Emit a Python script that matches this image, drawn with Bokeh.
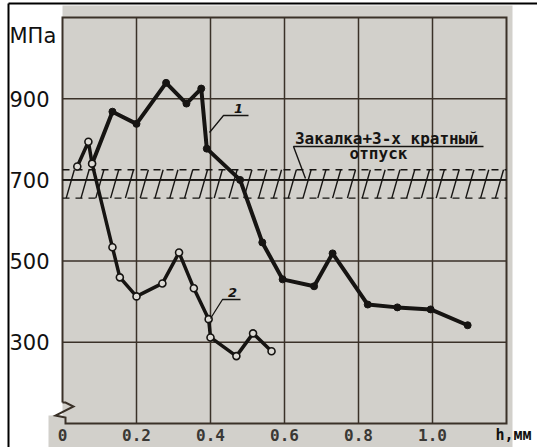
import numpy as np
from bokeh.plotting import figure
from bokeh.models import Range1d, Label
from bokeh.core.properties import value
from bokeh.embed import file_html
from bokeh.resources import INLINE

# Residual stress (MPa) against depth h (mm)
# curve 1
h1 = [0.08, 0.135, 0.20, 0.28, 0.335, 0.375, 0.39, 0.48, 0.54, 0.595, 0.68, 0.73, 0.825, 0.905, 0.995, 1.095]
s1 = [740, 868, 838, 939, 888, 925, 777, 700, 546, 455, 438, 519, 393, 386, 381, 342]
# curve 2
h2 = [0.04, 0.07, 0.08, 0.135, 0.155, 0.20, 0.27, 0.315, 0.355, 0.395, 0.40, 0.47, 0.515, 0.565]
s2 = [733, 794, 740, 534, 460, 413, 445, 521, 433, 357, 312, 266, 322, 278]

x_ticks = [0, 0.2, 0.4, 0.6, 0.8, 1.0]
x_tick_labels = ["0", "0.2", "0.4", "0.6", "0.8", "1.0"]
y_ticks = [300, 500, 700, 900]
y_tick_labels = ["300", "500", "700", "900"]
x_grid = [0.2, 0.4, 0.6, 0.8, 1.0]
y_grid = [300, 500, 700, 900]
band_low, band_high = 655, 725      # quench + triple temper level
band_mid = 700

H_MIN, H_MAX = 0.0, 1.2
S_MIN, S_MAX = 100, 1100

W, H = 537, 447
# frame of the graph in pixels
FX0, FX1 = 62, 506
FY0, FY1 = 17, 423          # top, bottom
kx = (FX1 - FX0) / (H_MAX - H_MIN)
ky = (FY1 - FY0) / (S_MAX - S_MIN)


def hx(px):
    return H_MIN + (px - FX0) / kx


def vy(py):
    return S_MAX - (py - FY0) / ky


p = figure(width=W, height=H, output_backend="svg", toolbar_location=None,
           x_range=Range1d(hx(0), hx(W)), y_range=Range1d(vy(H), vy(0)),
           x_axis_location=None, y_axis_location=None, min_border=0,
           background_fill_color="white", border_fill_color="white",
           outline_line_color=None)
p.grid.visible = False

INK = "#161412"
GRID = "#3a3128"
PAPER = "#d2d0cb"

# paper sheet
p.quad(left=[hx(62)], right=[hx(512)], bottom=[vy(H)], top=[vy(5)],
       fill_color=PAPER, line_color=None)
p.quad(left=[hx(48)], right=[hx(63)], bottom=[vy(H)], top=[vy(415)],
       fill_color=PAPER, line_color=None)

# page border lines
p.segment(x0=[hx(8), hx(8)], y0=[vy(3), vy(3)], x1=[hx(W), hx(8)], y1=[vy(3), vy(H)],
          line_color="black", line_width=2)

# grid
p.segment(x0=x_grid, y0=[S_MIN] * len(x_grid), x1=x_grid, y1=[S_MAX] * len(x_grid),
          line_color=GRID, line_width=1.5)
p.segment(x0=[H_MIN] * len(y_grid), y0=y_grid, x1=[H_MAX] * len(y_grid), y1=y_grid,
          line_color=GRID, line_width=1.5)
# frame with the axis break on the left
p.line(x=[H_MIN, H_MIN, H_MAX, H_MAX, hx(65), hx(65), hx(55), hx(73), hx(65), H_MIN],
       y=[vy(402), S_MAX, S_MAX, S_MIN, S_MIN, vy(417), vy(415), vy(406), vy(402), vy(402)],
       line_color=GRID, line_width=2, line_join="miter")

# hatched band
p.segment(x0=[H_MIN, H_MIN], y0=[band_low, band_high], x1=[H_MAX, H_MAX], y1=[band_low, band_high],
          line_color=INK, line_width=1.3, line_dash="7 6")
p.segment(x0=[H_MIN], y0=[band_mid], x1=[H_MAX], y1=[band_mid], line_color=INK, line_width=1.6)
hatch_x = np.arange(0.01, H_MAX - 0.02, 0.04)
p.segment(x0=hatch_x, y0=[band_low] * len(hatch_x), x1=hatch_x + 0.022, y1=[band_high] * len(hatch_x),
          line_color=INK, line_width=1.4)

# curves
p.line(h1, s1, line_color=INK, line_width=4, line_join="round")
p.scatter(h1, s1, size=7, fill_color=INK, line_color=INK)
p.line(h2, s2, line_color=INK, line_width=3.5, line_join="round")
p.scatter(h2, s2, size=7, fill_color="#dddbd6", line_color=INK, line_width=1.6)

# curve labels with leaders
p.line(x=[hx(209), hx(223), hx(248)], y=[vy(132), vy(115), vy(115)], line_color=INK, line_width=1.3)
p.line(x=[hx(210), hx(222), hx(240)], y=[vy(318), vy(299), vy(299)], line_color=INK, line_width=1.3)
p.text(x=[hx(238), hx(232)], y=[vy(108), vy(292)], text=["1", "2"],
       text_font=value("DejaVu Sans"), text_font_style="bold italic", text_font_size="13px",
       text_color=INK, text_align="center", text_baseline="middle")

# band note
p.line(x=[hx(305), hx(293), hx(483)], y=[vy(178), vy(146), vy(146)], line_color=INK, line_width=1.4)
p.text(x=[hx(386), hx(378)], y=[vy(138), vy(153)], text=["Закалка+3-х кратный", "отпуск"],
       text_font=value("DejaVu Sans Mono"), text_font_style="bold", text_font_size="16px",
       text_color=INK, text_align="center", text_baseline="middle")

# tick labels
p.text(x=x_ticks, y=[vy(434)] * len(x_ticks), text=x_tick_labels,
       text_font=value("DejaVu Sans Mono"), text_font_style="bold", text_font_size="16px",
       text_color="#3a3835", text_align="center", text_baseline="middle")
p.text(x=[hx(513)], y=[vy(434)], text=["h,мм"],
       text_font=value("DejaVu Sans Mono"), text_font_style="bold", text_font_size="15px",
       text_color="#111111", text_align="center", text_baseline="middle")
p.text(x=[hx(9)] * len(y_ticks), y=y_ticks, text=y_tick_labels,
       text_font=value("DejaVu Sans"), text_font_size="21px",
       text_color="#111111", text_align="left", text_baseline="middle")
p.add_layout(Label(x=9, y=H - 35, x_units="screen", y_units="screen", text="МПа",
                   text_font="DejaVu Sans", text_font_size="21px", text_color="#111111",
                   text_baseline="middle"))

open("out.html", "w").write(file_html(p, INLINE))
